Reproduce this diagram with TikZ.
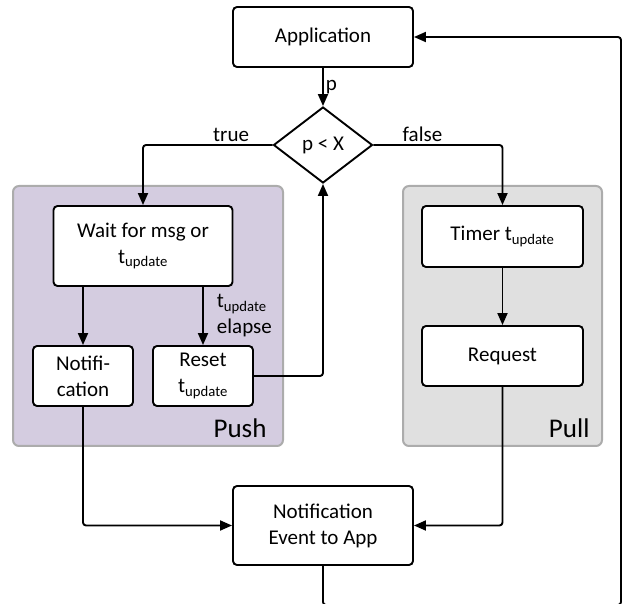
\documentclass[tikz,border=0pt]{standalone}
\usepackage{fontspec}
\setmainfont{Carlito}
\usetikzlibrary{shapes.geometric,arrows.meta}

\definecolor{pushbg}{RGB}{212,204,224}
\definecolor{pullbg}{RGB}{224,224,224}
\definecolor{panelrim}{RGB}{172,172,172}

\tikzset{
  block/.style={draw, line width=1.9pt, rounded corners=4pt, fill=white,
    align=center, inner sep=0pt, font=\fontsize{21}{26}\selectfont},
  decision/.style={draw, diamond, line width=1.9pt, fill=white, inner sep=0pt,
    minimum width=99pt, minimum height=76pt, font=\fontsize{21}{26}\selectfont},
  panel/.style={draw=panelrim, line width=2pt, rounded corners=6pt, inner sep=0pt},
  flow/.style={line width=1.9pt, rounded corners=3pt, -{Triangle[length=12pt,width=10pt]}},
  lbl/.style={inner sep=2pt, font=\fontsize{21}{26}\selectfont},
  tag/.style={anchor=base east, font=\fontsize{27}{30}\selectfont},
}

\begin{document}
\begin{tikzpicture}[x=1pt, y=-1pt]
  \useasboundingbox (0,0) rectangle (625,604);

  % the two mode panels
  \node (push) [panel, fill=pushbg, minimum width=270pt, minimum height=260pt] at (148,316) {};
  \node (pull) [panel, fill=pullbg, minimum width=199pt, minimum height=260pt] at (502.5,316) {};
  \node (pushtag) [tag, xshift=-14pt, yshift=9pt] at (push.south east) {Push};
  \node (pulltag) [tag, xshift=-10pt, yshift=9pt] at (pull.south east) {Pull};

  % blocks
  \node (app) [block, minimum width=180pt, minimum height=60pt] at (323,37) {Application};
  \node (dec) [decision] at (323,145) {p < X};
  \node (wait) [block, minimum width=179pt, minimum height=80pt] at (143,246) {Wait for msg or\\t\textsubscript{update}};
  \node (notif) [block, minimum width=100pt, minimum height=60pt] at (83,376) {Notifi-\\cation};
  \node (reset) [block, minimum width=100pt, minimum height=60pt] at (203,376) {Reset\\t\textsubscript{update}};
  \node (timer) [block, minimum width=161pt, minimum height=61pt] at (502.5,236.5) {Timer t\textsubscript{update}};
  \node (req) [block, minimum width=161pt, minimum height=60pt] at (502.5,356) {Request};
  \node (event) [block, minimum width=180pt, minimum height=79pt] at (323,525.5) {Notification\\Event to App};
  \coordinate (loopbr) at (621,605);

  % connectors
  \draw[flow] (app) -- (dec) node[lbl, midway, right] {p};
  \draw[flow] (dec.west) -| (wait.north) node[lbl, pos=0.16, above] {true};
  \draw[flow] (dec.east) -| (timer.north) node[lbl, pos=0.19, above] {false};
  \draw[flow] (notif.north |- wait.south) -- (notif.north);
  \draw[flow] (reset.north |- wait.south) -- (reset.north)
    node[lbl, pos=0.5, anchor=west, xshift=11pt, align=left] {t\textsubscript{update}\\elapse};
  \draw[flow] (reset.east) -| (dec.south);
  \draw[flow] (timer) -- (req);
  \draw[flow] (notif.south) |- (event.west);
  \draw[flow] (req.south) |- (event.east);
  \draw[flow] (event.south) |- (loopbr) |- (app.east);
\end{tikzpicture}
\end{document}
